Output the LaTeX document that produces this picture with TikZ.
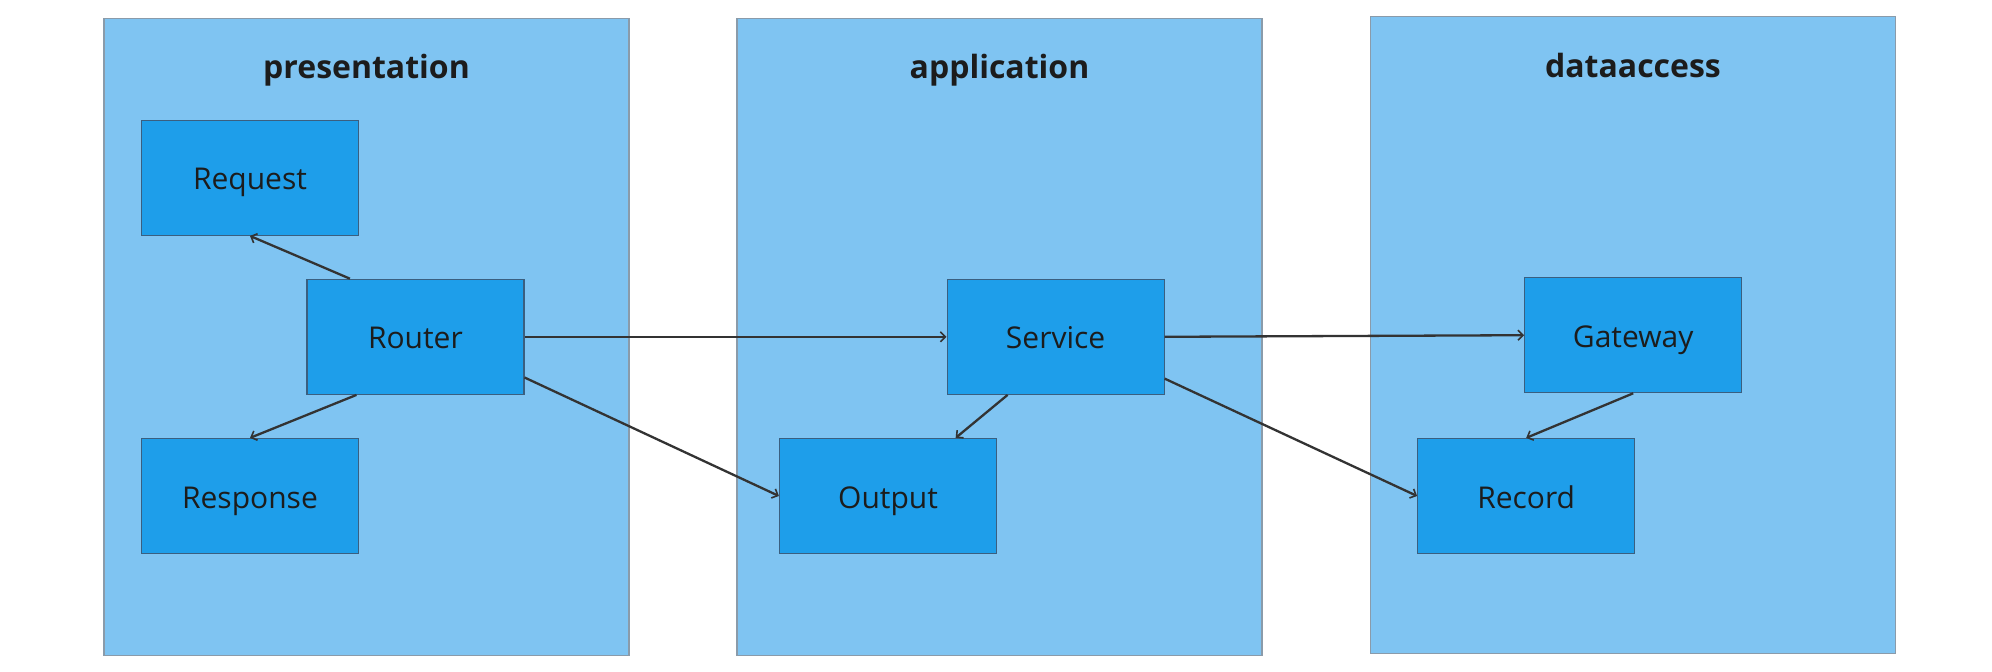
\documentclass[tikz,border=0pt]{standalone}
\usepackage{fontspec}
\setmainfont{Open Sans}
\usepackage{tikz}
\usetikzlibrary{calc,arrows.meta}
\definecolor{layerfill}{HTML}{7FC4F2}
\definecolor{layerline}{HTML}{8A9BAA}
\definecolor{boxfill}{HTML}{1E9EEA}
\definecolor{boxline}{HTML}{3A5F80}
\definecolor{ink}{HTML}{1C1C1C}
\definecolor{wire}{HTML}{333333}
\tikzset {>={Straight Barb[length=5pt,width=10pt,line width=1.6pt]}}
\tikzset{
  layer/.style={fill=layerfill,draw=layerline,line width=1.2pt},
  layertitle/.style={text=ink,font=\fontsize{32}{38}\selectfont\bfseries,anchor=base},
  unit/.style={rectangle,fill=boxfill,draw=boxline,line width=1.2pt,
    minimum width=217pt,minimum height=115pt,inner sep=0pt,
    text height=24pt,text depth=0pt,
    text=ink,font=\fontsize{30}{36}\selectfont},
  link/.style={->,draw=wire,line width=2.3pt}
}

\begin{document}
\begin{tikzpicture}[x=1pt,y=-1pt]
\useasboundingbox (0,0) rectangle (1992,672);
% layers
\draw[layer] (104,18.4) rectangle (629,655.3);
\draw[layer] (737,18.4) rectangle (1262,655.3);
\draw[layer] (1370.6,16.7) rectangle (1895.3,653.6);
\node[layertitle] (presentationtitle) at (366.5,78) {presentation};
\node[layertitle] (applicationtitle) at (999.5,78) {application};
\node[layertitle] (dataaccesstitle) at (1633,77) {dataaccess};
% units
\node[unit] (request) at (250,177.8) {Request};
\node[unit] (router) at (415.4,336.8) {Router};
\node[unit] (response) at (250,496) {Response};
\node[unit] (service) at (1055.6,336.8) {Service};
\node[unit] (output) at (888,496) {Output};
\node[unit] (gateway) at (1633.2,335.2) {Gateway};
\node[unit] (record) at (1526.2,496) {Record};
% links
\draw[link] ($(router.north west)!0.2!(router.north east)$) -- (request.south);
\draw[link] ($(router.south west)!0.23!(router.south east)$) -- (response.north);
\draw[link] (router.east) -- (service.west);
\draw[link] ($(router.north east)!0.85!(router.south east)$) -- (output.west);
\draw[link] ($(service.south west)!0.28!(service.south east)$) -- ($(output.north west)!0.81!(output.north east)$);
\draw[link] (service.east) -- (gateway.west);
\draw[link] ($(service.north east)!0.86!(service.south east)$) -- (record.west);
\draw[link] (gateway.south) -- (record.north);
\end{tikzpicture}
\end{document}
